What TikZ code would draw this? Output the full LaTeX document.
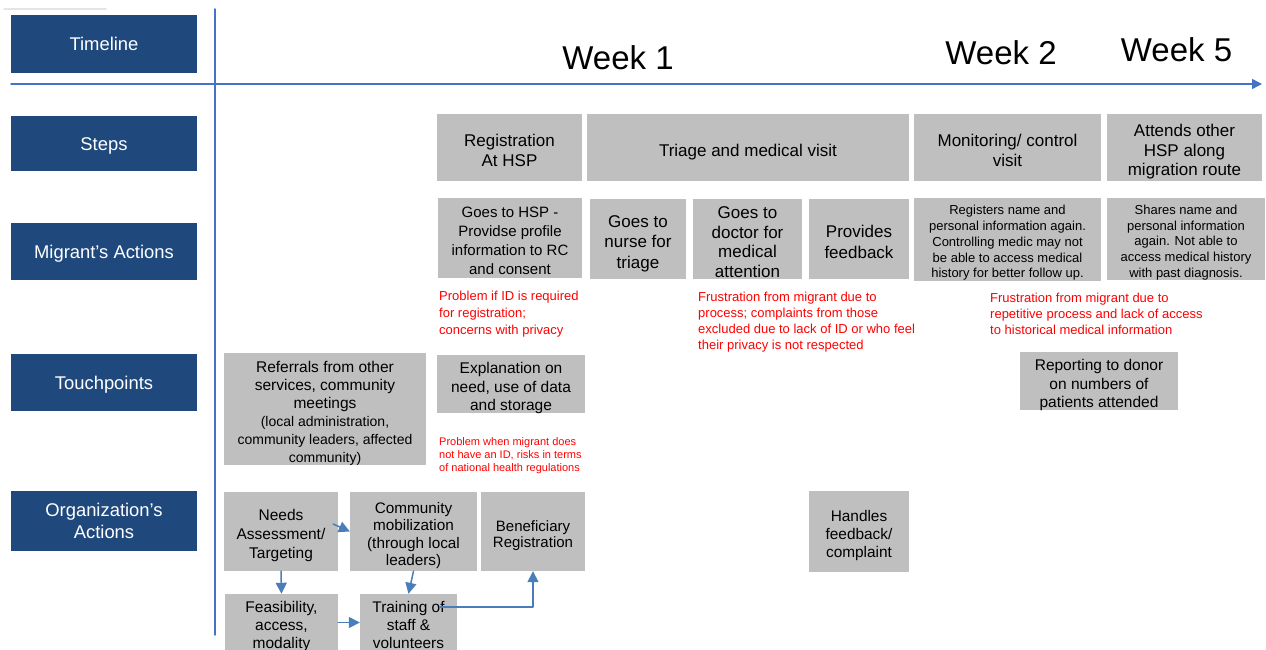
\documentclass[tikz,border=0pt]{standalone}
\usepackage{fontspec}
\setmainfont{Liberation Sans}
\usepackage{xcolor}
\usepackage{tikz}
\usetikzlibrary{arrows.meta,calc,positioning}
\definecolor{laneblue}{RGB}{31,73,125}
\definecolor{boxgray}{RGB}{191,191,191}
\definecolor{axisblue}{RGB}{68,114,196}
\definecolor{arrblue}{RGB}{74,126,187}
\newcommand{\toppad}{\rule{0pt}{1.05em}}
\tikzset{
  lane/.style={fill=laneblue, text=white, minimum width=186pt, inner sep=0pt, align=center, font=\fontsize{18.4}{22}\selectfont},
  oneline/.style={text height=13.2pt, text depth=0pt},
  gbox/.style 2 args={fill=boxgray, minimum width=#1pt, minimum height=#2pt, inner sep=0pt, align=center, text depth=0pt, font=\fontsize{15.5}{18.5}\selectfont},
  note/.style={text=red, align=left, anchor=north west, inner sep=0pt, font=\fontsize{13}{15.8}\selectfont},
  weeklbl/.style={inner sep=0pt, font=\fontsize{33}{37}\selectfont},
  arr/.style={draw=arrblue, line width=1.5pt, -{Triangle[length=11pt,width=11pt]}},
  every picture/.style={line cap=round, line join=round}
}
\begin{document}
\begin{tikzpicture}[x=1pt,y=-1pt]
    \clip (0,0) rectangle (1266,650);
    \useasboundingbox (0,0) rectangle (1266,650);
    \draw[black!10, line width=1.5pt] (4,9) -- (106,9);

    \node[lane, oneline, minimum height=58pt] (tl) at (104,44) {Timeline};
    \node[lane, oneline, minimum height=55pt] (st) at (104,143.5) {Steps};
    \node[lane, oneline, minimum height=57pt] (ma) at (104,251.5) {Migrant’s Actions};
    \node[lane, oneline, minimum height=57pt] (tp) at (104,382.5) {Touchpoints};
    \node[lane, minimum height=60pt] (oa) at (104,521) {Organization’s\\Actions};

    \coordinate (axl) at (11,84);
    \coordinate (axr) at (1262,84);
    \coordinate (vt) at (215,9);
    \coordinate (vb) at (215,635);
    \draw[axisblue, line width=1.4pt, -{Triangle[length=10pt,width=10pt]}] (axl) -- (axr);
    \draw[axisblue, line width=1.4pt] (vt) -- (vb);

    \node[weeklbl] (w1) at (618,58) {Week 1};
    \node[weeklbl] (w2) at (1001,53) {Week 2};
    \node[weeklbl] (w5) at (1176.5,50) {Week 5};

    \node[gbox={145}{67}, font=\fontsize{17}{20.5}\selectfont] (reg) at (509.5,147.5) {\toppad Registration\\At HSP};
    \node[gbox={322}{67}, font=\fontsize{17}{20.5}\selectfont] (tri) at (748,147.5) {\toppad Triage and medical visit};
    \node[gbox={187}{67}, font=\fontsize{17}{20.5}\selectfont] (mon) at (1007.5,147.5) {\toppad Monitoring/ control\\visit};
    \node[gbox={155}{67}, font=\fontsize{17}{19.5}\selectfont] (att) at (1184.5,147.5) {\toppad Attends other\\HSP along\\migration route};

    \node[gbox={144}{80}, font=\fontsize{15}{19}\selectfont] (goes) at (510,238) {\toppad Goes to HSP -\\Providse profile\\information to RC\\and consent};
    \node[gbox={96}{80}, font=\fontsize{17}{20.5}\selectfont] (nurse) at (638,239) {\toppad Goes to\\nurse for\\triage};
    \node[gbox={109}{80}, font=\fontsize{17}{19.5}\selectfont] (doc) at (747.5,239) {\toppad Goes to\\doctor for\\medical\\attention};
    \node[gbox={100}{80}, font=\fontsize{17}{20.5}\selectfont] (fb) at (859,239) {\toppad Provides\\feedback};
    \node[gbox={187}{83}, font=\fontsize{13}{15.7}\selectfont] (regag) at (1007.5,239.5) {\toppad Registers name and\\personal information again.\\Controlling medic may not\\be able to access medical\\history for better follow up.};
    \node[gbox={158}{82}, font=\fontsize{13}{15.7}\selectfont] (share) at (1186,239) {\toppad Shares name and\\personal information\\again. Not able to\\access medical history\\with past diagnosis.};

    \node[note, font=\fontsize{13}{16.7}\selectfont] (prob1) at (439,291) {Problem if ID is required\\for registration;\\concerns with privacy};
    \node[note] (frus1) at (698,292) {Frustration from migrant due to\\process; complaints from those\\excluded due to lack of ID or who feel\\their privacy is not respected};
    \node[note] (frus2) at (990,293) {Frustration from migrant due to\\repetitive process and lack of access\\to historical medical information};

    \node[gbox={202}{112}, font=\fontsize{15.5}{18}\selectfont] (ref) at (325,409) {\toppad Referrals from other\\services, community\\meetings\\{\fontsize{14}{18}\selectfont (local administration,}\\{\fontsize{14}{18}\selectfont community leaders, affected}\\{\fontsize{14}{18}\selectfont community)}};
    \node[gbox={148}{58}] (expl) at (511,384) {\toppad Explanation on\\need, use of data\\and storage};
    \node[gbox={158}{58}] (rep) at (1099,381) {\toppad Reporting to donor\\on numbers of\\patients attended};
    \node[note, font=\fontsize{11}{13}\selectfont] (prob2) at (439,437) {Problem when migrant does\\not have an ID, risks in terms\\of national health regulations};

    \node[gbox={114}{79}, font=\fontsize{15.5}{19}\selectfont] (needs) at (281,531.5) {\toppad Needs\\Assessment/\\Targeting};
    \node[gbox={127}{79}, font=\fontsize{15.3}{17.5}\selectfont] (comm) at (413.5,531.5) {\toppad Community\\mobilization\\(through local\\leaders)};
    \node[gbox={104}{79}, font=\fontsize{15}{16.7}\selectfont] (ben) at (533,531.5) {\toppad Beneficiary\\Registration};
    \node[gbox={100}{81}, font=\fontsize{15.4}{18.3}\selectfont] (hand) at (859,531.5) {\toppad Handles\\feedback/\\complaint};
    \node[gbox={113}{57}, font=\fontsize{15.5}{18}\selectfont] (feas) at (281.5,622.5) {\toppad Feasibility,\\access,\\modality};
    \node[gbox={97}{57}, font=\fontsize{15.4}{18}\selectfont] (train) at (408.5,622.5) {\toppad Training of\\staff \&\\volunteers};

    \draw[arr] ([shift={(-5,-7.5)}]needs.east) -- (comm.west);
    \draw[arr] (needs.south) -- (feas.north);
    \draw[arr] (comm.south) -- (train.north);
    \draw[arr] (feas.east) -- (train.west);
    \draw[arr] ([shift={(31.5,-15.5)}]train.center) -| (ben.south);
  \end{tikzpicture}
\end{document}
